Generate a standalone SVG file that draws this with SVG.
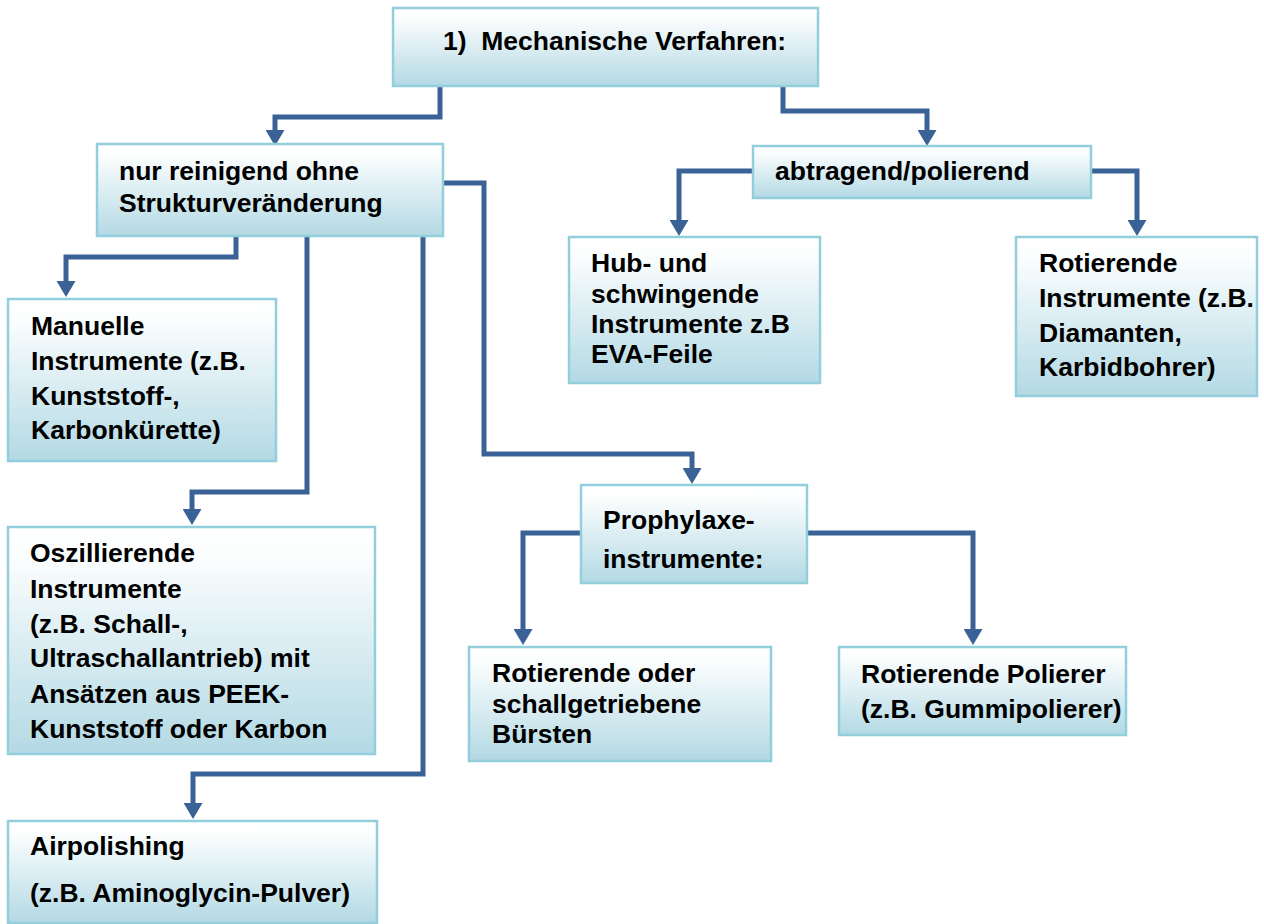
<svg xmlns="http://www.w3.org/2000/svg" width="1264" height="924" viewBox="0 0 1264 924">
<defs>
<linearGradient id="g" x1="0" y1="0" x2="0" y2="1">
<stop offset="0" stop-color="#ffffff"/>
<stop offset="0.12" stop-color="#fcfefe"/>
<stop offset="1" stop-color="#b3d9e4"/>
</linearGradient>
<marker id="ah" viewBox="0 0 16 19" refX="0" refY="9.5" markerWidth="16" markerHeight="19" markerUnits="userSpaceOnUse" orient="auto">
<path d="M0,0 L16,9.5 L0,19 z" fill="#3a6296"/>
</marker>
<style>
.box{fill:url(#g);stroke:#93cedd;stroke-width:2.5}
.t{font-family:"Liberation Sans",Arial,sans-serif;font-weight:bold;font-size:26.5px;fill:#000}
.c{fill:none;stroke:#3a6296;stroke-width:5;stroke-linejoin:miter;marker-end:url(#ah)}
</style>
</defs>
<rect width="1264" height="924" fill="#ffffff"/>
<g id="connectors">
<path class="c" d="M440,86 V117 H275 V130"/>
<path class="c" d="M783,86 V111 H927 V130"/>
<path class="c" d="M236,236 V257 H66 V281"/>
<path class="c" d="M307,236 V492 H192 V509"/>
<path class="c" d="M423,236 V774 H193 V803"/>
<path class="c" d="M443,183 H484 V454 H692 V468"/>
<path class="c" d="M753,171 H679 V220"/>
<path class="c" d="M1091,171 H1137 V220"/>
<path class="c" d="M581,533 H523 V629"/>
<path class="c" d="M807,533 H973 V629"/>
</g>
<g id="n-top">
<rect class="box" x="393" y="8" width="425" height="78"/>
<text class="t" x="443" y="50" xml:space="preserve">1)  Mechanische Verfahren:</text>
</g>
<g id="n-nur">
<rect class="box" x="97" y="144" width="346" height="92"/>
<text class="t" x="119" y="180">nur reinigend ohne</text>
<text class="t" x="119" y="212">Strukturveränderung</text>
</g>
<g id="n-abtragend">
<rect class="box" x="753" y="146" width="338" height="52"/>
<text class="t" x="775" y="180">abtragend/polierend</text>
</g>
<g id="n-manuelle">
<rect class="box" x="8" y="299" width="268" height="162"/>
<text class="t" x="31" y="335">Manuelle</text>
<text class="t" x="31" y="370">Instrumente (z.B.</text>
<text class="t" x="31" y="405">Kunststoff-,</text>
<text class="t" x="31" y="439">Karbonkürette)</text>
</g>
<g id="n-oszill">
<rect class="box" x="8" y="527" width="367" height="227"/>
<text class="t" x="30" y="562">Oszillierende</text>
<text class="t" x="30" y="598">Instrumente</text>
<text class="t" x="30" y="633">(z.B. Schall-,</text>
<text class="t" x="30" y="667">Ultraschallantrieb) mit</text>
<text class="t" x="30" y="703">Ansätzen aus PEEK-</text>
<text class="t" x="30" y="738">Kunststoff oder Karbon</text>
</g>
<g id="n-air">
<rect class="box" x="8" y="821" width="369" height="102"/>
<text class="t" x="30" y="855">Airpolishing</text>
<text class="t" x="30" y="902">(z.B. Aminoglycin-Pulver)</text>
</g>
<g id="n-hub">
<rect class="box" x="569" y="237" width="251" height="146"/>
<text class="t" x="591" y="272">Hub- und</text>
<text class="t" x="591" y="303">schwingende</text>
<text class="t" x="591" y="333">Instrumente z.B</text>
<text class="t" x="591" y="363">EVA-Feile</text>
</g>
<g id="n-rotinst">
<rect class="box" x="1016" y="237" width="241" height="159"/>
<text class="t" x="1039" y="272">Rotierende</text>
<text class="t" x="1039" y="307">Instrumente (z.B.</text>
<text class="t" x="1039" y="342">Diamanten,</text>
<text class="t" x="1039" y="376">Karbidbohrer)</text>
</g>
<g id="n-prophylaxe">
<rect class="box" x="581" y="485" width="226" height="98"/>
<text class="t" x="603" y="529">Prophylaxe-</text>
<text class="t" x="603" y="568">instrumente:</text>
</g>
<g id="n-buersten">
<rect class="box" x="469" y="647" width="302" height="114"/>
<text class="t" x="492" y="682">Rotierende oder</text>
<text class="t" x="492" y="713">schallgetriebene</text>
<text class="t" x="492" y="743">Bürsten</text>
</g>
<g id="n-polierer">
<rect class="box" x="839" y="647" width="287" height="88"/>
<text class="t" x="861" y="683">Rotierende Polierer</text>
<text class="t" x="861" y="718">(z.B. Gummipolierer)</text>
</g>
</svg>
